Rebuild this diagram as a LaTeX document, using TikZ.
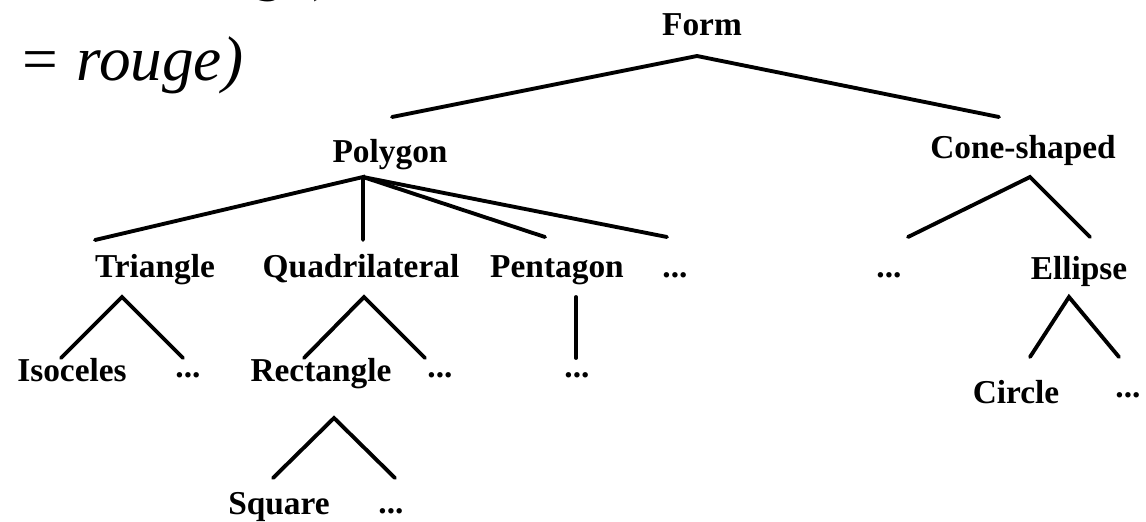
\documentclass[tikz,border=0pt]{standalone}
\usepackage{fontspec}
\setmainfont{Liberation Serif}
\begin{document}
\begin{tikzpicture}[x=0.02cm,y=-0.02cm,
  lbl/.style={anchor=base,inner sep=0pt,font=\bfseries\fontsize{19}{19}\selectfont},
  prose/.style={anchor=base west,inner sep=0pt,font=\itshape\fontsize{36}{36}\selectfont},
  edge/.style={line width=2.2pt,line cap=round,line join=miter}]
\useasboundingbox (0,0) rectangle (1146,521);
\begin{scope}
\clip (0,0) rectangle (1146,521);
% running text beside the tree
\node[prose] (eqA) at (257,-12) {ge)};
\node[prose] (eqB) at (18,80) {= rouge)};
\end{scope}

% labels
\node[lbl] (form) at (702,35) {Form};
\node[lbl] (poly) at (390,162) {Polygon};
\node[lbl] (cone) at (1023,158) {Cone-shaped};
\node[lbl] (tri) at (155,277) {Triangle};
\node[lbl] (quad) at (361,277) {Quadrilateral};
\node[lbl] (pent) at (557,277) {Pentagon};
\node[lbl] (pdots) at (675,277) {...};
\node[lbl] (cdots) at (889,277) {...};
\node[lbl] (ell) at (1079,279) {Ellipse};
\node[lbl] (iso) at (72,381) {Isoceles};
\node[lbl] (tdots) at (188,377) {...};
\node[lbl] (rect) at (321,381) {Rectangle};
\node[lbl] (qdots) at (440,377) {...};
\node[lbl] (pedots) at (577,377) {...};
\node[lbl] (circ) at (1016,403) {Circle};
\node[lbl] (edots) at (1128,397) {...};
\node[lbl] (sq) at (279,514) {Square};
\node[lbl] (sdots) at (391,513) {...};

% branch points
\coordinate (form-j) at (697,56);
\coordinate (poly-u) at (392,117);
\coordinate (cone-u) at (999,117);
\coordinate (poly-j) at (363,177);
\coordinate (tri-u) at (95,240);
\coordinate (quad-u) at (363,240);
\coordinate (pent-u) at (545,237);
\coordinate (pdots-u) at (667,237);
\coordinate (cone-j) at (1030,177);
\coordinate (cdots-u) at (908,237);
\coordinate (ell-u) at (1090,237);
\coordinate (tri-j) at (122,297);
\coordinate (iso-u) at (61,358);
\coordinate (tdots-u) at (183,358);
\coordinate (quad-j) at (364,297);
\coordinate (rect-u) at (304,358);
\coordinate (qdots-u) at (425,358);
\coordinate (pent-j) at (576,297);
\coordinate (pedots-u) at (576,358);
\coordinate (ell-j) at (1069,297);
\coordinate (circ-u) at (1030,357);
\coordinate (edots-u) at (1119,357);
\coordinate (rect-j) at (334,418);
\coordinate (sq-u) at (273,478);
\coordinate (sdots-u) at (395,478);

% edges
\draw[edge] (poly-u) -- (form-j) -- (cone-u);
\draw[edge] (tri-u) -- (poly-j) -- (quad-u);
\draw[edge] (poly-j) -- (pent-u);
\draw[edge] (poly-j) -- (pdots-u);
\draw[edge] (cdots-u) -- (cone-j) -- (ell-u);
\draw[edge] (iso-u) -- (tri-j) -- (tdots-u);
\draw[edge] (rect-u) -- (quad-j) -- (qdots-u);
\draw[edge] (pent-j) -- (pedots-u);
\draw[edge] (circ-u) -- (ell-j) -- (edots-u);
\draw[edge] (sq-u) -- (rect-j) -- (sdots-u);
\end{tikzpicture}
\end{document}
